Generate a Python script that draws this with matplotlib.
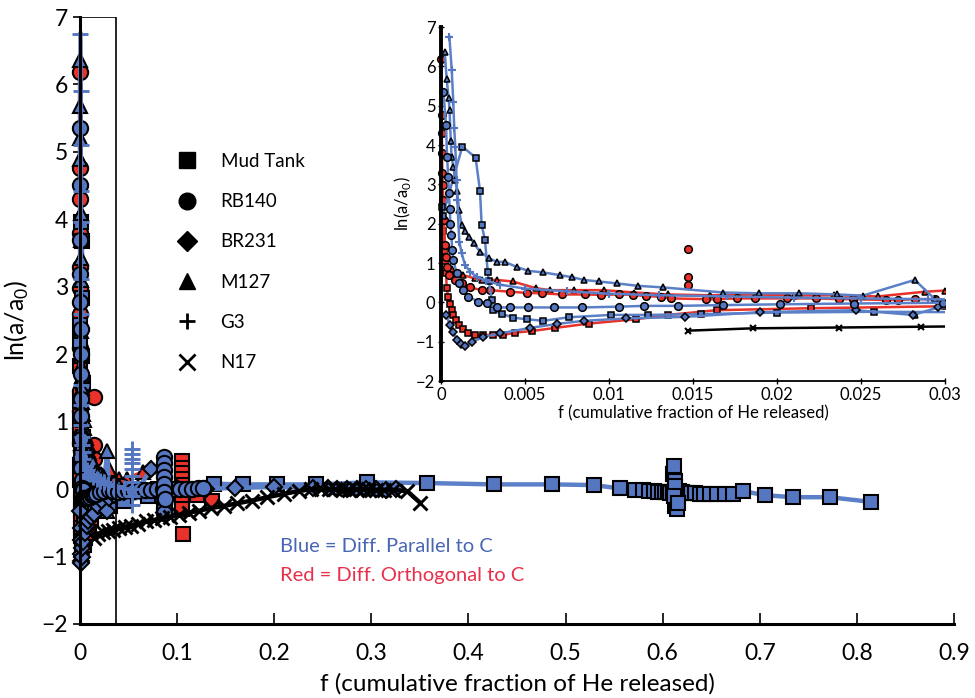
import matplotlib
matplotlib.use("Agg")
import matplotlib.pyplot as plt
from matplotlib.lines import Line2D
from matplotlib.patches import Rectangle

plt.rcParams["font.family"] = ["Lato", "DejaVu Sans"]

# Mud Tank, diffusion parallel to c (blue squares)
mud_par_x = [0.00005, 0.0001, 0.00127, 0.00206, 0.00232, 0.00242, 0.00262, 0.00278, 0.00285, 0.00302, 0.00311,
             0.00361, 0.0043, 0.0051, 0.0061, 0.0076, 0.0101, 0.0123, 0.0155, 0.0200, 0.0258,
             0.031, 0.045, 0.07, 0.10, 0.138, 0.168, 0.203, 0.243, 0.296, 0.357, 0.426, 0.486, 0.529,
             0.556, 0.572, 0.580, 0.586, 0.591, 0.595, 0.599, 0.602, 0.605, 0.608, 0.611, 0.614, 0.617,
             0.620, 0.623, 0.626, 0.629, 0.633, 0.638, 0.643, 0.649, 0.656, 0.664, 0.672,
             0.683, 0.705, 0.734, 0.772, 0.815]
mud_par_y = [2.43, 2.2, 3.96, 3.68, 2.84, 1.97, 1.58, 0.78, 0.53, 0.06, -0.2,
             -0.29, -0.39, -0.43, -0.47, -0.38, -0.32, -0.32, -0.3, -0.26, -0.24,
             -0.25, -0.17, -0.1, 0.0, 0.08, 0.07, 0.07, 0.07, 0.1, 0.09, 0.07, 0.07, 0.06,
             0.01, -0.01, -0.02, -0.03, -0.03, -0.04, -0.04, -0.05, -0.05, -0.06, -0.05, -0.04, -0.03,
             -0.05, -0.06, -0.06, -0.06, -0.06, -0.07, -0.07, -0.07, -0.07, -0.07, -0.07,
             -0.03, -0.09, -0.12, -0.12, -0.19]
mud_par_stack_x = [0.611, 0.612, 0.613, 0.614, 0.613, 0.615, 0.613, 0.612, 0.616]
mud_par_stack_y = [0.22, 0.34, 0.12, -0.15, -0.25, -0.3, 0.05, -0.1, -0.2]

# Mud Tank, diffusion orthogonal to c (red squares)
mud_orth_x = [0.0001, 0.00017, 0.00024, 0.0003, 0.00034, 0.00043, 0.00054, 0.00064, 0.00073, 0.00089, 0.00109,
              0.00133, 0.00163, 0.00202, 0.00252, 0.00311, 0.00371, 0.0044, 0.0054, 0.0068, 0.0088,
              0.0116, 0.0135, 0.0164, 0.022, 0.03, 0.045, 0.06, 0.08, 0.12, 0.136]
mud_orth_y = [1.82, 1.3, 1.06, 0.75, 0.36, 0.14, -0.03, -0.2, -0.32, -0.45, -0.58,
              -0.69, -0.77, -0.82, -0.83, -0.83, -0.83, -0.77, -0.73, -0.65, -0.54,
              -0.43, -0.32, -0.2, -0.15, -0.1, -0.15, -0.05, 0.0, -0.08, -0.18]
mud_orth_stack_x = [0.105, 0.105, 0.105, 0.105, 0.105, 0.105, 0.105, 0.105, 0.105, 0.106]
mud_orth_stack_y = [0.41, 0.32, 0.24, 0.15, 0.06, -0.03, -0.12, -0.2, -0.3, -0.67]

# RB140 parallel (blue circles)
rb_par_x = [0.00014, 0.0003, 0.00036, 0.00043, 0.00047, 0.00052, 0.00056, 0.00062, 0.00066, 0.00073,
            0.00093, 0.00109, 0.00133, 0.00163, 0.00222, 0.00272, 0.00331, 0.0041, 0.0052, 0.0067,
            0.0084, 0.0106, 0.0121, 0.0141, 0.0168, 0.0202, 0.0246, 0.0299,
            0.034, 0.039, 0.044, 0.049, 0.055, 0.061, 0.067, 0.073, 0.079, 0.085, 0.091, 0.097,
            0.103, 0.109, 0.115, 0.121, 0.127]
rb_par_y = [5.36, 4.51, 3.7, 3.19, 2.77, 2.37, 2.0, 1.71, 1.33, 1.08,
            0.74, 0.48, 0.31, 0.14, 0.02, -0.02, -0.13, -0.13, -0.13, -0.13,
            -0.13, -0.11, -0.09, -0.09, -0.07, -0.05, -0.03, -0.01,
            -0.03, -0.04, -0.03, -0.02, -0.03, -0.02, -0.01, -0.01, 0.0, 0.0, 0.0, 0.0,
            0.0, 0.0, 0.0, 0.01, 0.01]
rb_par_stack_x = [0.086, 0.086, 0.086, 0.086, 0.086, 0.086, 0.086, 0.086, 0.086, 0.087, 0.088]
rb_par_stack_y = [0.48, 0.38, 0.28, 0.18, 0.08, -0.12, -0.2, -0.28, -0.35, -0.05, -0.15]

# RB140 orthogonal (red circles)
rb_orth_x = [0.00002, 0.00004, 0.00005, 0.00006, 0.00008, 0.0001, 0.00014, 0.00018, 0.00024, 0.0003,
             0.00034, 0.0005, 0.00083, 0.00123, 0.00173, 0.00242, 0.0029, 0.0041, 0.0051, 0.006,
             0.0072, 0.0086, 0.0095, 0.0106, 0.0114, 0.0122, 0.0131, 0.0137, 0.0158, 0.0164,
             0.0176, 0.0187, 0.0206, 0.0223, 0.0237, 0.0245, 0.0265, 0.0272, 0.0282, 0.0294,
             0.035, 0.042]
rb_orth_y = [6.18, 4.76, 4.3, 3.8, 3.3, 2.98, 2.6, 2.09, 1.46, 1.16,
             0.9, 0.69, 0.57, 0.48, 0.38, 0.31, 0.31, 0.27, 0.24, 0.23,
             0.2, 0.2, 0.19, 0.2, 0.19, 0.16, 0.14, 0.1, 0.08, 0.08,
             0.1, 0.1, 0.1, 0.1, 0.08, 0.08, 0.06, 0.06, 0.08, 0.08,
             0.06, 0.05]
rb_orth_stack_x = [0.0147, 0.0147, 0.0147]
rb_orth_stack_y = [1.36, 0.65, 0.44]

# BR231 parallel (blue diamonds)
br_par_x = [0.0003, 0.00054, 0.00073, 0.00093, 0.00117, 0.00143, 0.00183, 0.00252, 0.00351, 0.0053,
            0.0069, 0.0085, 0.011, 0.0145, 0.019, 0.0247, 0.0281, 0.0296,
            0.035, 0.045, 0.06, 0.073, 0.1, 0.13, 0.16, 0.2, 0.24, 0.255, 0.265, 0.275,
            0.285, 0.295, 0.305, 0.315, 0.325]
br_par_y = [-0.32, -0.58, -0.75, -0.96, -1.07, -1.1, -1.01, -0.88, -0.79, -0.65,
            -0.55, -0.47, -0.41, -0.37, -0.25, -0.2, -0.32, -0.13,
            -0.08, -0.04, 0.0, 0.3, 0.02, 0.0, 0.02, 0.03, 0.02, 0.01, 0.0, 0.0,
            0.0, 0.0, 0.0, -0.01, 0.0]

# M127 parallel (blue triangles)
m_par_x = [0.00022, 0.00034, 0.00045, 0.00051, 0.00058, 0.00063, 0.00074, 0.00085, 0.00096, 0.00107,
           0.00123, 0.00141, 0.00168, 0.00197, 0.00231, 0.00287, 0.00331, 0.0038, 0.0045, 0.0052,
           0.0061, 0.0071, 0.0078, 0.0085, 0.0094, 0.0105, 0.0117, 0.0132, 0.0168, 0.0189,
           0.0213, 0.0236, 0.0251, 0.0282, 0.0294, 0.04, 0.06]
m_par_y = [6.36, 5.68, 5.2, 4.9, 4.1, 3.7, 3.43, 3.1, 2.84, 2.35,
           1.97, 1.82, 1.67, 1.5, 1.29, 1.12, 1.03, 1.03, 0.9, 0.8,
           0.76, 0.69, 0.64, 0.57, 0.53, 0.48, 0.42, 0.38, 0.25, 0.23,
           0.23, 0.2, 0.17, 0.57, 0.08, 0.05, 0.03]
m_par_stack_x = [0.0282]
m_par_stack_y = [-0.33]

# M127 orthogonal (red triangles)
m_orth_x = [0.00064, 0.00133, 0.002, 0.00242, 0.00331, 0.00427, 0.00565, 0.0065, 0.0079, 0.0097,
            0.0115, 0.0135, 0.016, 0.0189, 0.021, 0.0234, 0.026, 0.0288, 0.03, 0.04, 0.048, 0.065]
m_orth_y = [0.86, 0.69, 0.61, 0.57, 0.57, 0.53, 0.36, 0.31, 0.31, 0.31,
            0.25, 0.2, 0.18, 0.2, 0.17, 0.18, 0.15, 0.27, 0.3, 0.15, 0.15, 0.25]

# G3 parallel (blue crosses)
g3_par_x = [0.0005, 0.00064, 0.00073, 0.00079, 0.00085, 0.00093, 0.00097, 0.00109, 0.00123, 0.00143,
            0.00173, 0.00212, 0.0027, 0.0035, 0.005, 0.0075, 0.01, 0.013, 0.017, 0.021,
            0.025, 0.029, 0.035, 0.045]
g3_par_y = [6.75, 5.9, 5.1, 4.42, 3.96, 3.11, 2.6, 1.54, 1.25, 0.95,
            0.78, 0.65, 0.55, 0.45, 0.35, 0.28, 0.22, 0.18, 0.15, 0.12,
            0.1, 0.08, 0.05, 0.02]
g3_par_stack_x = [0.054] * 10
g3_par_stack_y = [0.6, 0.52, 0.45, 0.38, 0.3, 0.2, 0.1, 0.0, -0.1, -0.23]

# N17 (black x)
n17_x = [0.0147, 0.0186, 0.0237, 0.0286, 0.034, 0.04, 0.046, 0.053, 0.06, 0.068,
         0.076, 0.084, 0.093, 0.102, 0.112, 0.123, 0.135, 0.148, 0.162, 0.177,
         0.193, 0.21, 0.225, 0.238, 0.248, 0.256, 0.263, 0.27, 0.277, 0.284,
         0.291, 0.298, 0.305, 0.313, 0.322, 0.337, 0.350]
n17_y = [-0.72, -0.66, -0.64, -0.62, -0.6, -0.58, -0.56, -0.54, -0.51, -0.48,
         -0.46, -0.43, -0.41, -0.38, -0.35, -0.32, -0.28, -0.25, -0.21, -0.17,
         -0.12, -0.07, -0.03, 0.0, 0.0, 0.0, 0.0, 0.0, -0.01, 0.0,
         0.0, -0.01, -0.01, -0.01, -0.01, -0.03, -0.2]

samples = ["Mud Tank", "RB140", "BR231", "M127", "G3", "N17"]
sample_markers = ["s", "o", "D", "^", "+", "x"]
box_width = 0.037  # extent of the enlarged region

BLUE = "#5577c2"
BLUE_LINE = "#5b80c8"
RED = "#e8322a"
BLUE_TEXT = "#4866b4"
RED_TEXT = "#e8304c"


def draw_series(ax, big):
    s = 1.0 if big else 0.5
    lw = 3.2 if big else 1.8
    mew = 1.5 if big else 1.1

    def line(x, y, marker, fill, lcol, ms, ls="-"):
        if marker in ("+", "x"):
            ax.plot(x, y, ls=ls, color=lcol, lw=lw, marker=marker, mec=fill,
                    ms=ms * s, mew=mew * 1.4)
        else:
            ax.plot(x, y, ls=ls, color=lcol, lw=lw, marker=marker, mfc=fill,
                    mec="k", ms=ms * s, mew=mew)

    line(mud_orth_x, mud_orth_y, "s", RED, RED, 10)
    line(mud_orth_stack_x, mud_orth_stack_y, "s", RED, RED, 10, ls="none")
    line(m_orth_x, m_orth_y, "^", RED, RED, 10)
    line(rb_orth_x, rb_orth_y, "o", RED, RED, 11)
    line(rb_orth_stack_x, rb_orth_stack_y, "o", RED, RED, 11, ls="none")
    line(mud_par_x, mud_par_y, "s", BLUE, BLUE_LINE, 10)
    line(mud_par_stack_x, mud_par_stack_y, "s", BLUE, BLUE_LINE, 10, ls="none")
    line(m_par_x, m_par_y, "^", BLUE, BLUE_LINE, 10)
    line(m_par_stack_x, m_par_stack_y, "^", BLUE, BLUE_LINE, 10, ls="none")
    line(br_par_x, br_par_y, "D", BLUE, BLUE_LINE, 8)
    line(rb_par_x, rb_par_y, "o", BLUE, BLUE_LINE, 11)
    line(rb_par_stack_x, rb_par_stack_y, "o", BLUE, BLUE_LINE, 11, ls="none")
    line(g3_par_x, g3_par_y, "+", BLUE, BLUE_LINE, 12)
    line(g3_par_stack_x, g3_par_stack_y, "+", BLUE, BLUE_LINE, 12, ls="none")
    line(n17_x, n17_y, "x", "k", "k", 10)


fig = plt.figure(figsize=(9.75, 6.98), dpi=100)

# main panel
ax = fig.add_axes([80 / 975, 1 - 624 / 698, 874 / 975, 607 / 698])
draw_series(ax, True)
for ln in ax.lines:
    ln.set_clip_on(False)  # markers at f = 0 straddle the axis
ax.add_patch(Rectangle((0, -2), box_width, 9, fill=False, lw=1.2, ec="k", zorder=5))
ax.set_xlim(0, 0.9)
ax.set_ylim(-2, 7)
ax.set_xticks([i / 10 for i in range(10)])
ax.set_xticklabels(["0"] + ["0.%d" % i for i in range(1, 10)])
ax.set_yticks(range(-2, 8))
for side in ("top", "right"):
    ax.spines[side].set_visible(False)
for side in ("left", "bottom"):
    ax.spines[side].set_linewidth(2.2)
ax.tick_params(labelsize=16.5, width=1.2)
ax.tick_params(axis="x", direction="in", length=8, pad=14)
ax.tick_params(axis="y", direction="out", length=5)
ax.set_xlabel("f (cumulative fraction of He released)", fontsize=17.5, labelpad=6)
ax.set_ylabel(r"ln(a/a$_\mathregular{0}$)", fontsize=18, labelpad=8)

handles = [Line2D([], [], ls="none", marker=m, color="k", mfc="k", mec="k",
                  ms=12 if m in ("s", "o") else (10 if m == "D" else 12),
                  mew=2 if m in ("+", "x") else 1)
           for m in sample_markers]
ax.legend(handles, samples, loc="upper left", bbox_to_anchor=(0.182, 0.781),
          bbox_transform=fig.transFigure, frameon=False, fontsize=13.5,
          handlelength=1.0, handletextpad=1.3, labelspacing=1.24,
          borderpad=0, borderaxespad=0)

fig.text(280 / 975, 1 - 547 / 698, "Blue = Diff. Parallel to C", color=BLUE_TEXT,
         fontsize=14.5, va="center", ha="left")
fig.text(280 / 975, 1 - 575 / 698, "Red = Diff. Orthogonal to C", color=RED_TEXT,
         fontsize=14.5, va="center", ha="left")

# enlarged view of the first 3 % of release
ins = fig.add_axes([441 / 975, 1 - 381 / 698, 504 / 975, 354 / 698])
ins.set_facecolor("none")
draw_series(ins, False)
clip = Rectangle((-0.04, -0.03), 1.04, 1.06, transform=ins.transAxes)
for ln in ins.lines:
    ln.set_clip_path(clip)
ins.set_xlim(0, 0.03)
ins.set_ylim(-2, 7)
ins.set_xticks([0, 0.005, 0.01, 0.015, 0.02, 0.025, 0.03])
ins.set_xticklabels(["0", "0.005", "0.01", "0.015", "0.02", "0.025", "0.03"])
ins.set_yticks(range(-2, 8))
for side in ("top", "right"):
    ins.spines[side].set_visible(False)
ins.spines["left"].set_linewidth(2.8)
ins.spines["bottom"].set_linewidth(1.3)
ins.tick_params(labelsize=12, direction="inout", length=4, width=1, pad=2)
ins.set_xlabel("f (cumulative fraction of He released)", fontsize=12, labelpad=2)
ins.set_ylabel(r"ln(a/a$_\mathregular{0}$)", fontsize=12, labelpad=2)

fig.savefig("out.png", dpi=100)
